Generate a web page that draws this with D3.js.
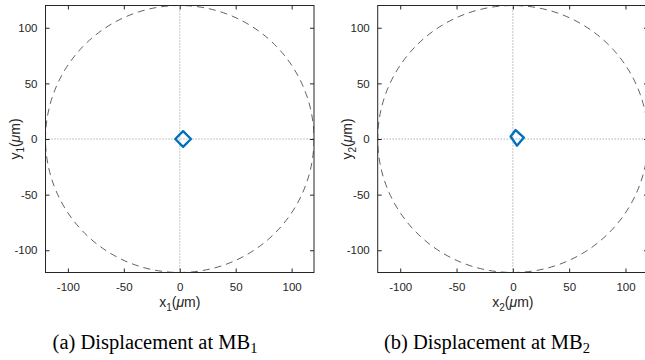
<!DOCTYPE html>
<html><head><meta charset="utf-8">
<script src="https://cdn.jsdelivr.net/npm/d3@7"></script>
<style>body{margin:0;background:#fff}svg{display:block}</style>
</head><body>
<script>
const ticks = [-100, -50, 0, 50, 100];
const domainLim = [-120, 120];
const circleRadius = 120;
const panelNames = ["1", "2"];
const captions = ["(a) Displacement at MB", "(b) Displacement at MB"];
const trajX1 = [3, 10, 3, -4];
const trajY1 = [7, 0, -7, 0];
const trajX2 = [2.5, 9.8, 3.6, -2];
const trajY2 = [8, 1.3, -6, 2.2];

const W = 645, H = 360;
const svg = d3.select("body").append("svg").attr("width", W).attr("height", H);
svg.append("rect").attr("width", W).attr("height", H).attr("fill", "#fff");

const layouts = [
  {x0: 45.5, x1: 314, y0: 5.5, y1: 272.5, cap: 155},
  {x0: 377.7, x1: 648, y0: 5.5, y1: 272.5, cap: 487}
];
const trajs = [
  trajX1.map((x, i) => [x, trajY1[i]]),
  trajX2.map((x, i) => [x, trajY2[i]])
];

layouts.forEach((L, k) => {
  const x = d3.scaleLinear().domain(domainLim).range([L.x0, L.x1]);
  const y = d3.scaleLinear().domain(domainLim).range([L.y1, L.y0]);
  const g = svg.append("g");
  const clipId = "clip" + k;
  g.append("clipPath").attr("id", clipId).append("rect")
    .attr("x", L.x0).attr("y", L.y0).attr("width", L.x1 - L.x0).attr("height", L.y1 - L.y0);
  const inner = g.append("g").attr("clip-path", `url(#${clipId})`);

  inner.append("line").attr("x1", x(0)).attr("x2", x(0)).attr("y1", y(domainLim[0])).attr("y2", y(domainLim[1]))
    .attr("stroke", "#8c8c8c").attr("stroke-width", 1).attr("stroke-dasharray", "1,2");
  inner.append("line").attr("y1", y(0)).attr("y2", y(0)).attr("x1", x(domainLim[0])).attr("x2", x(domainLim[1]))
    .attr("stroke", "#8c8c8c").attr("stroke-width", 1).attr("stroke-dasharray", "1,2");

  inner.append("ellipse").attr("cx", x(0)).attr("cy", y(0))
    .attr("rx", x(circleRadius) - x(0)).attr("ry", y(0) - y(circleRadius))
    .attr("fill", "none").attr("stroke", "#3a3a3a").attr("stroke-width", 0.8)
    .attr("stroke-dasharray", "7,5");

  const line = d3.line().x(d => x(d[0])).y(d => y(d[1])).curve(d3.curveLinearClosed);
  inner.append("path").attr("d", line(trajs[k])).attr("fill", "none")
    .attr("stroke", "#0072BD").attr("stroke-width", 2.4).attr("stroke-linejoin", "round");

  const fmt = d => d < 0 ? "-" + Math.abs(d) : String(d);
  const axB = d3.axisBottom(x).tickValues(ticks).tickSizeInner(-4).tickSizeOuter(0).tickPadding(10).tickFormat(fmt);
  const axT = d3.axisTop(x).tickValues(ticks).tickSizeInner(-4).tickSizeOuter(0).tickFormat("");
  const axL = d3.axisLeft(y).tickValues(ticks).tickSizeInner(-4).tickSizeOuter(0).tickPadding(8).tickFormat(fmt);
  const axR = d3.axisRight(y).tickValues(ticks).tickSizeInner(-4).tickSizeOuter(0).tickFormat("");
  const style = sel => {
    sel.select(".domain").remove();
    sel.selectAll("line").attr("stroke", "#262626");
    sel.selectAll("text").attr("fill", "#262626").attr("font-family", "Liberation Sans, Arial, sans-serif").attr("font-size", 11.5);
  };
  g.append("g").attr("transform", `translate(0,${L.y1})`).call(axB).call(style);
  g.append("g").attr("transform", `translate(0,${L.y0})`).call(axT).call(style);
  g.append("g").attr("transform", `translate(${L.x0},0)`).call(axL).call(style);
  g.append("g").attr("transform", `translate(${L.x1},0)`).call(axR).call(style);

  g.append("rect").attr("x", L.x0).attr("y", L.y0).attr("width", L.x1 - L.x0).attr("height", L.y1 - L.y0)
    .attr("fill", "none").attr("stroke", "#262626").attr("stroke-width", 1);

  const lab = (px, py, rot, v) => {
    const tx = g.append("text").attr("transform", `translate(${px},${py}) rotate(${rot})`)
      .attr("text-anchor", "middle").attr("fill", "#262626")
      .attr("font-family", "Liberation Sans, Arial, sans-serif").attr("font-size", 14);
    tx.append("tspan").text(v);
    tx.append("tspan").attr("font-size", 10).attr("dy", 4).text(panelNames[k]);
    tx.append("tspan").attr("dy", -4).text("(");
    tx.append("tspan").attr("font-style", "italic").text("\u03BC");
    tx.append("tspan").text("m)");
  };
  lab(x(0), 307, 0, "x");
  lab(L.x0 - 26, y(0), -90, "y");

  const cap = g.append("text").attr("x", L.cap).attr("y", 349).attr("text-anchor", "middle")
    .attr("fill", "#000").attr("font-family", "Liberation Serif, Times New Roman, serif").attr("font-size", 20.5);
  cap.append("tspan").text(captions[k]);
  cap.append("tspan").attr("font-size", 14.5).attr("dy", 4).text(panelNames[k]);
});
</script>
</body></html>
